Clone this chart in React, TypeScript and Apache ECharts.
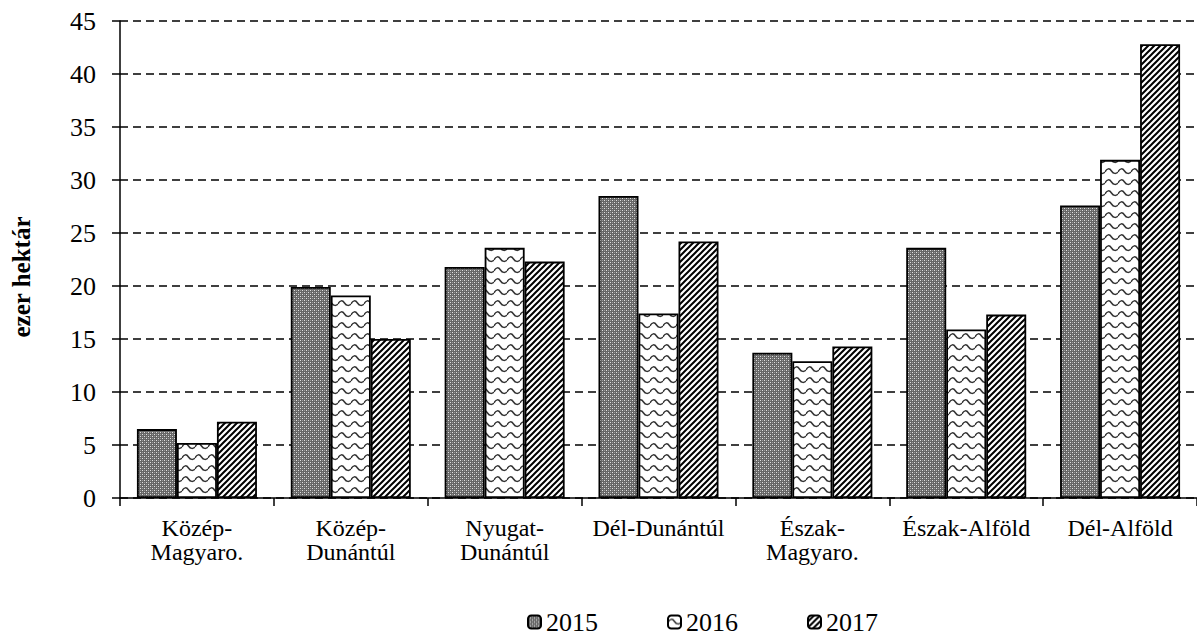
import React, { useEffect, useRef } from "react";
import * as echarts from "echarts";

const categories = [
  "Közép-\nMagyaro.",
  "Közép-\nDunántúl",
  "Nyugat-\nDunántúl",
  "Dél-Dunántúl",
  "Észak-\nMagyaro.",
  "Észak-Alföld",
  "Dél-Alföld",
];
const years = ["2015", "2016", "2017"];
const values2015 = [6.5, 19.9, 21.8, 28.5, 13.7, 23.6, 27.6];
const values2016 = [5.2, 19.1, 23.6, 17.4, 12.9, 15.9, 31.9];
const values2017 = [7.2, 15.0, 22.3, 24.2, 14.3, 17.3, 42.8];
const yTicks = { min: 0, max: 45, interval: 5 };
const yTitle = "ezer hektár";

const FONT = "'Liberation Serif', 'Times New Roman', serif";

function makeCanvas(w: number, h: number, draw: (ctx: CanvasRenderingContext2D) => void) {
  const c = document.createElement("canvas");
  c.width = w;
  c.height = h;
  const ctx = c.getContext("2d")!;
  draw(ctx);
  return { image: c.toDataURL(), repeat: "repeat", imageWidth: w, imageHeight: h } as any;
}

function patterns() {
  const p2015 = makeCanvas(4, 4, (ctx) => {
    ctx.fillStyle = "#666666";
    ctx.fillRect(0, 0, 4, 4);
    ctx.fillStyle = "#e0e0e0";
    ctx.fillRect(0, 0, 1, 1);
    ctx.fillRect(2, 2, 1, 1);
    ctx.fillStyle = "#9a9a9a";
    ctx.fillRect(2, 0, 1, 1);
    ctx.fillRect(0, 2, 1, 1);
  });
  const p2016 = makeCanvas(13, 11, (ctx) => {
    ctx.fillStyle = "#ffffff";
    ctx.fillRect(0, 0, 13, 11);
    ctx.strokeStyle = "#333";
    ctx.lineWidth = 1.5;
    ctx.beginPath();
    ctx.moveTo(0, 7);
    ctx.bezierCurveTo(2, 3, 4.5, 3, 6.5, 6);
    ctx.bezierCurveTo(8.5, 9, 11, 9, 13, 7);
    ctx.stroke();
  });
  const p2017 = makeCanvas(6, 6, (ctx) => {
    ctx.fillStyle = "#ffffff";
    ctx.fillRect(0, 0, 6, 6);
    ctx.strokeStyle = "#000";
    ctx.lineWidth = 2;
    ctx.beginPath();
    for (let k = -1; k <= 1; k++) {
      ctx.moveTo(k * 6 - 1, 7);
      ctx.lineTo(k * 6 + 7, -1);
    }
    ctx.stroke();
  });
  return [p2015, p2016, p2017];
}

export default function App() {
  const ref = useRef<HTMLDivElement>(null);
  useEffect(() => {
    if (!ref.current) return;
    const chart = echarts.init(ref.current, undefined, { renderer: "svg" });
    const pats = patterns();
    const data = [values2015, values2016, values2017];
    chart.setOption({
      animation: false,
      backgroundColor: "#ffffff",
      textStyle: { fontFamily: FONT, color: "#000" },
      grid: { left: 120, right: -10, top: 21, bottom: 140, containLabel: false },
      legend: {
        left: 527,
        top: 609,
        padding: 0,
        itemWidth: 13,
        itemHeight: 13,
        itemGap: 69,
        textStyle: { fontFamily: FONT, fontSize: 26, lineHeight: 26, color: "#000" },
        data: years,
      },
      graphic: [
        {
          type: "text",
          x: 21,
          y: 277,
          rotation: Math.PI / 2,
          style: {
            text: yTitle,
            font: `bold 25px ${FONT}`,
            fill: "#000",
            align: "center",
            verticalAlign: "middle",
          },
        },
      ],
      xAxis: {
        type: "category",
        data: categories,
        axisLine: { lineStyle: { color: "#000", width: 1.5 } },
        axisTick: { show: true, interval: 0, length: 8, lineStyle: { color: "#000", width: 1.5 } },
        axisLabel: {
          interval: 0,
          fontFamily: FONT,
          fontSize: 24,
          lineHeight: 24,
          color: "#000",
          margin: 18,
        },
      },
      yAxis: {
        type: "value",
        min: yTicks.min,
        max: yTicks.max,
        interval: yTicks.interval,
        axisLine: { show: true, lineStyle: { color: "#000", width: 1.5 } },
        axisTick: { show: true, length: 8, lineStyle: { color: "#000", width: 1.5 } },
        axisLabel: { fontFamily: FONT, fontSize: 26, color: "#000", margin: 24 },
        splitLine: { show: true, lineStyle: { color: "#000", type: [8, 5], width: 1.5 } },
      },
      series: years.map((y, i) => ({
        name: y,
        type: "bar",
        data: data[i],
        barGap: "0%",
        barCategoryGap: "22%",
        itemStyle: { color: pats[i], borderColor: "#000", borderWidth: 1.8 },
      })),
    });
    return () => chart.dispose();
  }, []);
  return (
    <div
      ref={ref}
      style={{ position: "fixed", left: 0, top: 0, width: 1197, height: 638, background: "#fff" }}
    />
  );
}
